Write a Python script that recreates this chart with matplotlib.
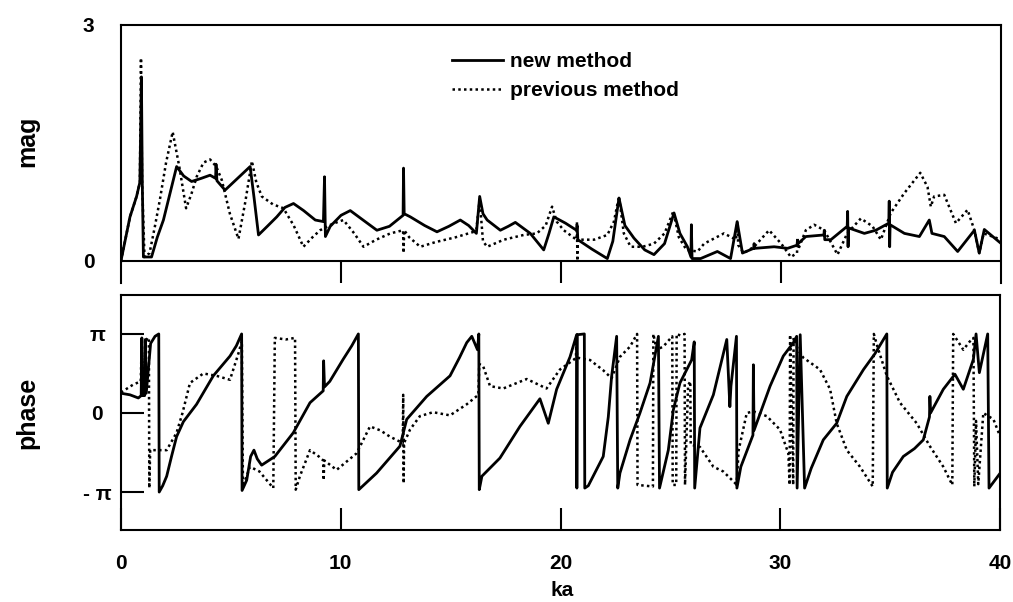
import numpy as np
import matplotlib
matplotlib.use("Agg")
import matplotlib.pyplot as plt

plt.rcParams['font.family'] = ['Liberation Sans', 'DejaVu Sans']
plt.rcParams['font.weight'] = 'bold'

# magnitude, new method (ka, |p|)
new_mag_ka = [0.0, 0.41, 0.71, 0.86, 0.93, 0.97, 1.02, 1.39, 1.65, 1.93, 2.23, 2.53, 2.85, 3.21, 3.65,
              4.05, 4.30, 4.32, 4.36, 4.73, 5.30, 5.87, 6.05, 6.25, 6.65, 7.08, 7.45, 7.84, 8.30, 8.83,
              9.20, 9.25, 9.29, 9.51, 10.0, 10.42, 11.0, 11.63, 12.2, 12.82, 12.84, 12.87, 13.15, 13.8,
              14.36, 14.9, 15.42, 15.8, 16.15, 16.30, 16.45, 16.64, 17.24, 17.6, 17.92, 18.6, 19.21,
              19.45, 19.67, 20.2, 20.70, 20.73, 20.76, 21.4, 22.10, 22.35, 22.63, 22.9, 23.31, 23.8,
              24.22, 24.7, 25.13, 25.4, 25.74, 25.90, 25.92, 25.95, 26.34, 27.10, 27.70, 28.00, 28.24,
              28.75, 28.77, 28.80, 29.68, 30.29, 30.72, 30.74, 30.77, 31.12, 31.94, 31.96, 31.98, 32.26,
              33.0, 33.02, 33.04, 33.06, 33.78, 34.30, 34.89, 34.91, 34.93, 34.95, 35.60, 36.28, 36.73,
              36.85, 37.41, 38.02, 38.78, 39.00, 39.23, 40.0]
new_mag = [0.0, 0.56, 0.82, 1.0, 2.34, 1.0, 0.05, 0.05, 0.30, 0.52, 0.86, 1.20, 1.08, 1.01, 1.05,
           1.09, 1.05, 1.23, 1.02, 0.90, 1.05, 1.20, 0.80, 0.33, 0.44, 0.56, 0.68, 0.73, 0.64, 0.52,
           0.50, 1.07, 0.31, 0.44, 0.58, 0.64, 0.52, 0.39, 0.44, 0.58, 1.18, 0.60, 0.56, 0.45,
           0.37, 0.44, 0.52, 0.45, 0.35, 0.82, 0.60, 0.52, 0.39, 0.44, 0.49, 0.35, 0.14,
           0.35, 0.56, 0.48, 0.39, 0.45, 0.27, 0.15, 0.03, 0.25, 0.80, 0.45, 0.29, 0.14,
           0.08, 0.22, 0.61, 0.35, 0.18, 0.05, 0.46, 0.03, 0.03, 0.12, 0.03, 0.50, 0.10,
           0.16, 0.22, 0.16, 0.18, 0.16, 0.20, 0.26, 0.22, 0.31, 0.33, 0.39, 0.27, 0.27,
           0.44, 0.63, 0.18, 0.42, 0.35, 0.39, 0.48, 0.76, 0.18, 0.46, 0.35, 0.31, 0.52,
           0.35, 0.31, 0.12, 0.39, 0.10, 0.40, 0.22]

# magnitude, previous method
prev_mag_ka = [0.0, 0.41, 0.71, 0.86, 0.91, 0.96, 1.07, 1.30, 1.55, 1.77, 2.05, 2.35, 2.65, 2.96, 3.20,
               3.44, 3.75, 4.05, 4.33, 4.58, 4.95, 5.34, 5.65, 5.95, 6.15, 6.40, 6.9, 7.38, 7.85, 8.29,
               8.7, 9.05, 9.6, 10.11, 10.6, 11.02, 11.6, 12.24, 12.82, 12.84, 12.87, 13.1, 13.6, 14.3,
               15.2, 16.03, 16.15, 16.30, 16.45, 16.64, 17.4, 18.3, 18.9, 19.3, 19.59, 19.8, 20.12,
               20.70, 20.72, 20.74, 20.76, 21.5, 22.10, 22.40, 22.63, 22.85, 23.16, 23.7, 24.22, 24.7,
               25.10, 25.35, 25.70, 26.2, 26.5, 27.4, 27.95, 28.00, 28.05, 28.3, 28.77, 29.45, 30.0,
               30.44, 30.72, 30.74, 30.78, 31.12, 31.5, 31.96, 32.56, 33.0, 33.62, 34.15, 34.53, 34.98,
               35.59, 36.32, 36.65, 36.80, 36.95, 37.41, 37.94, 38.47, 38.78, 39.0, 39.2, 40.0]
prev_mag = [0.0, 0.56, 0.82, 1.0, 2.58, 1.0, 0.05, 0.10, 0.45, 0.78, 1.25, 1.64, 1.20, 0.67, 0.85,
            1.07, 1.25, 1.29, 1.20, 1.03, 0.60, 0.28, 0.75, 1.27, 1.00, 0.82, 0.72, 0.67, 0.45, 0.18,
            0.30, 0.39, 0.47, 0.52, 0.35, 0.18, 0.27, 0.35, 0.39, 0.10, 0.39, 0.30, 0.18, 0.24,
            0.30, 0.37, 0.40, 0.78, 0.25, 0.18, 0.27, 0.33, 0.35, 0.45, 0.69, 0.50, 0.39,
            0.27, 0.50, 0.0, 0.27, 0.27, 0.33, 0.50, 0.82, 0.35, 0.18, 0.18, 0.22, 0.35,
            0.63, 0.30, 0.14, 0.12, 0.22, 0.35, 0.27, 0.50, 0.20, 0.10, 0.18, 0.39, 0.22,
            0.05, 0.10, 0.30, 0.15, 0.39, 0.46, 0.39, 0.08, 0.35, 0.54, 0.44, 0.27, 0.61,
            0.86, 1.12, 0.94, 0.69, 0.82, 0.84, 0.48, 0.65, 0.39, 0.10, 0.35, 0.27]

# phase in units of pi, new method
new_ph_ka = [0.0, 0.41, 0.79, 0.92, 0.95, 0.98, 1.08, 1.11, 1.15, 1.35, 1.55, 1.72, 1.74, 1.90, 2.08,
             2.30, 2.53, 2.84, 3.44, 4.20, 4.96, 5.25, 5.49, 5.51, 5.72, 5.90, 6.05, 6.20, 6.40, 7.00,
             7.84, 8.60, 9.20, 9.22, 9.26, 9.50, 10.11, 10.50, 10.80, 10.82, 11.63, 12.69, 13.00, 13.91,
             14.97, 15.40, 15.73, 15.96, 16.22, 16.28, 16.30, 16.42, 17.24, 18.15, 19.06, 19.44, 19.82,
             20.43, 20.73, 20.74, 20.76, 21.08, 21.10, 21.26, 21.94, 22.17, 22.32, 22.55, 22.60, 22.70,
             23.16, 23.61, 24.07, 24.45, 24.50, 24.90, 25.13, 25.43, 25.96, 26.08, 26.10, 26.34, 26.95,
             27.56, 27.70, 27.75, 28.00, 28.02, 28.20, 28.75, 28.77, 28.80, 29.53, 30.13, 30.59, 30.74,
             30.76, 30.90, 31.10, 31.40, 31.95, 32.56, 33.02, 33.78, 34.30, 34.84, 34.86, 35.10, 35.59,
             36.10, 36.50, 36.78, 36.80, 36.83, 37.41, 37.94, 38.32, 38.78, 38.90, 39.05, 39.43, 39.49,
             40.0]
new_ph = [0.25, 0.23, 0.19, 0.22, 0.95, 0.22, 0.22, 0.93, 0.25, 0.88, 0.97, 1.0, -1.0, -0.92, -0.80,
          -0.55, -0.30, -0.11, 0.11, 0.47, 0.72, 0.85, 1.0, -0.98, -0.85, -0.55, -0.47, -0.58, -0.66, -0.55,
          -0.25, 0.13, 0.28, 0.66, 0.33, 0.40, 0.68, 0.85, 1.0, -0.97, -0.76, -0.42, -0.08, 0.21,
          0.47, 0.70, 0.89, 0.97, 0.80, 1.0, -0.97, -0.80, -0.57, -0.17, 0.18, -0.13, 0.30,
          0.71, 0.99, -0.95, 0.99, 1.0, -0.95, -0.92, -0.55, -0.05, 0.46, 0.97, -0.95, -0.76,
          -0.34, 0.0, 0.38, 0.97, -0.95, -0.47, 0.04, 0.38, 0.67, 0.90, -0.95, -0.19, 0.23,
          0.93, 0.08, 0.34, 0.97, -0.95, -0.68, -0.28, 0.61, -0.22, 0.34, 0.72, 0.89, 0.97,
          -0.95, 0.99, -0.95, -0.70, -0.34, -0.13, 0.21, 0.55, 0.75, 1.0, -0.95, -0.75, -0.55,
          -0.45, -0.34, -0.05, 0.21, 0.0, 0.30, 0.49, 0.30, 0.68, 1.0, 0.51, 1.0, -0.95,
          -0.76]

# phase in units of pi, previous method
prev_ph_ka = [0.0, 0.56, 0.90, 0.95, 1.00, 1.12, 1.20, 1.27, 1.29, 1.33, 2.08, 2.53, 2.80, 3.14, 3.75,
              4.35, 4.96, 5.34, 5.50, 5.55, 5.87, 6.30, 6.93, 7.00, 7.50, 7.92, 7.95, 8.14, 8.60, 9.0,
              9.20, 9.22, 9.25, 9.81, 10.72, 11.33, 11.8, 12.24, 12.82, 12.84, 12.86, 12.88, 13.15,
              13.6, 14.2, 14.97, 15.73, 16.26, 16.30, 16.48, 16.79, 17.39, 18.46, 19.36, 19.97, 20.58,
              20.70, 20.72, 20.75, 21.34, 21.94, 22.32, 22.70, 23.16, 23.48, 23.50, 24.20, 24.22, 24.37,
              24.67, 25.08, 25.10, 25.26, 25.28, 25.45, 25.64, 25.66, 25.80, 25.90, 25.92, 26.34, 26.95,
              27.4, 27.95, 28.00, 28.1, 28.47, 28.77, 29.38, 29.98, 30.36, 30.42, 30.44, 30.58, 30.60,
              30.80, 31.04, 31.8, 32.26, 32.56, 33.02, 33.62, 34.20, 34.25, 34.4, 34.84, 35.44, 36.2,
              36.8, 37.41, 37.82, 37.86, 38.32, 38.6, 38.78, 38.82, 38.90, 39.00, 39.23, 39.69, 40.0]
prev_ph = [0.26, 0.36, 0.40, 0.95, 0.30, 0.90, 0.95, 0.95, -0.95, -0.47, -0.47, -0.25, 0.0, 0.38, 0.50,
           0.47, 0.42, 0.75, 0.91, -0.93, -0.68, -0.74, -0.95, 0.95, 0.93, 0.95, -0.97, -0.80, -0.47, -0.55,
           -0.60, -0.85, -0.60, -0.72, -0.51, -0.17, -0.22, -0.30, -0.38, 0.23, -0.89, -0.38, -0.21,
           -0.04, 0.01, -0.03, 0.11, 0.23, 0.62, 0.59, 0.34, 0.31, 0.43, 0.31, 0.55, 0.67,
           0.70, 1.0, 0.70, 0.67, 0.54, 0.44, 0.71, 0.84, 1.0, -0.91, -0.93, 1.0, 0.80,
           0.84, 0.97, -0.91, -0.91, 1.0, 0.98, 1.0, -0.91, 0.35, 0.40, -0.40, -0.43, -0.68,
           -0.74, -0.89, -0.93, -0.47, 0.0, 0.02, -0.04, -0.21, -0.51, -0.91, 0.99, -0.91, 0.95,
           0.80, 0.70, 0.55, 0.30, -0.13, -0.47, -0.68, -0.93, 1.0, 0.85, 0.47, 0.13, -0.13,
           -0.42, -0.68, -0.91, 1.0, 0.80, 0.90, 0.95, -0.93, -0.10, -0.90, 0.0, -0.08, -0.30]

dotted = (0, (1, 1.3))

fig = plt.figure(figsize=(10.13, 6.02), dpi=100)
ax1 = fig.add_axes([0.1194, 0.530, 0.869, 0.4285])
ax2 = fig.add_axes([0.1194, 0.1196, 0.868, 0.3904])

# top: magnitude
ax1.plot(new_mag_ka, new_mag, color='black', lw=2.0, label='new method')
ax1.plot(prev_mag_ka, prev_mag, color='black', lw=1.8, linestyle=dotted, label='previous method')
ax1.axhline(0, color='black', lw=1.5)
ax1.set_xlim(0, 40)
ax1.set_ylim(-0.28, 3)
ax1.spines['bottom'].set_visible(False)
ax1.set_xticks([10, 20, 30])
ax1.tick_params(axis='x', direction='in', length=16, width=1.5, labelbottom=False)
ax1.set_yticks([0, 3])
ax1.set_yticklabels(['0', '3'])
ax1.tick_params(axis='y', length=0, pad=19, labelsize=15)
ax1.legend(loc='upper left', bbox_to_anchor=(0.376, 0.895), frameon=False, fontsize=15,
           handlelength=2.45, handletextpad=0.35, labelspacing=0.5, borderpad=0, borderaxespad=0)

# bottom: phase
ax2.plot(new_ph_ka, np.array(new_ph) * np.pi, color='black', lw=2.0)
ax2.plot(prev_ph_ka, np.array(prev_ph) * np.pi, color='black', lw=1.8, linestyle=dotted)
ax2.set_xlim(0, 40)
ax2.set_ylim(-4.65, 4.69)
ax2.set_xticks([0, 10, 20, 30, 40])
ax2.tick_params(axis='x', direction='in', length=16, width=1.5, pad=17, labelsize=15)
ax2.set_yticks([-np.pi, 0, np.pi])
ax2.set_yticklabels(['- π', '0', 'π'])
ax2.tick_params(axis='y', direction='in', length=16.5, width=1.5, pad=17, labelsize=15)
for lab in ax2.get_yticklabels():
    lab.set_horizontalalignment('center')

for ax in (ax1, ax2):
    for sp in ax.spines.values():
        sp.set_linewidth(1.5)

fig.text(562 / 1013, 1 - 591 / 602, 'ka', ha='center', va='center', fontsize=15)
fig.text(27 / 1013, 1 - 141 / 602, 'mag', ha='center', va='center', rotation=90, fontsize=18)
fig.text(27 / 1013, 1 - 413 / 602, 'phase', ha='center', va='center', rotation=90, fontsize=18)

fig.savefig('out.png', dpi=100)
